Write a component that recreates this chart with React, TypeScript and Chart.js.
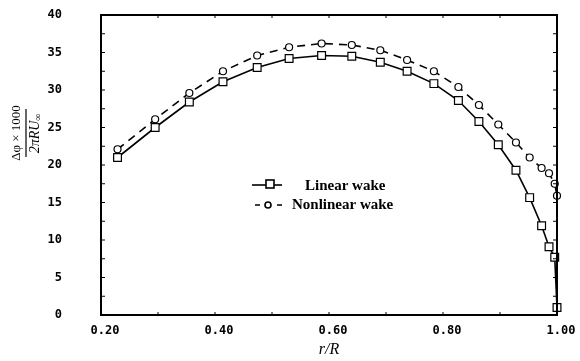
import { useEffect, useRef } from 'react';
import { Chart, registerables } from 'chart.js';

Chart.register(...registerables);

// Radial stations r/R
const radius = [0.229, 0.295, 0.355, 0.414, 0.474, 0.530, 0.587, 0.640, 0.690, 0.737,
  0.784, 0.827, 0.863, 0.897, 0.928, 0.952, 0.973, 0.986, 0.996, 1.0];

// Circulation  Δφ×1000 / (2πRU∞)
const linearWake = [21.0, 25.0, 28.4, 31.1, 33.0, 34.2, 34.6, 34.5, 33.7, 32.5,
  30.85, 28.6, 25.8, 22.7, 19.3, 15.65, 11.9, 9.1, 7.7, 1.0];
const nonlinearWake = [22.1, 26.1, 29.6, 32.5, 34.6, 35.7, 36.2, 36.0, 35.3, 34.0,
  32.5, 30.4, 28.0, 25.4, 23.0, 21.0, 19.6, 18.9, 17.5, 15.9];

const seriesNames = ['Linear wake', 'Nonlinear wake'];
const xTitle = 'r/R';
const yTitleTop = 'Δφ × 1000';
const yTitleBottom = '2πRU';

const tickFont = { family: "'DejaVu Sans Mono', monospace", size: 12, weight: 'bold' as const };

const decorations = {
  id: 'decorations',
  afterDraw(chart: Chart) {
    const { ctx, chartArea: a } = chart;
    const xs = chart.scales.x;
    const ys = chart.scales.y;
    ctx.save();
    ctx.strokeStyle = '#000';
    ctx.fillStyle = '#000';

    // frame
    ctx.lineWidth = 2;
    ctx.strokeRect(a.left, a.top, a.right - a.left, a.bottom - a.top);

    // inward minor ticks
    ctx.lineWidth = 1;
    ctx.beginPath();
    for (let v = 2.5; v < 40; v += 2.5) {
      const y = ys.getPixelForValue(v);
      ctx.moveTo(a.left, y); ctx.lineTo(a.left + 4, y);
      ctx.moveTo(a.right, y); ctx.lineTo(a.right - 4, y);
    }
    for (let i = 3; i < 10; i++) {
      const x = xs.getPixelForValue(i / 10);
      ctx.moveTo(x, a.bottom); ctx.lineTo(x, a.bottom - 3);
      ctx.moveTo(x, a.top); ctx.lineTo(x, a.top + 3);
    }
    ctx.stroke();

    // x title
    ctx.font = "italic 16px 'Liberation Serif', serif";
    ctx.textAlign = 'center';
    ctx.textBaseline = 'middle';
    ctx.fillText(xTitle, (a.left + a.right) / 2, 350);

    // y title as a fraction, rotated
    ctx.save();
    ctx.translate(26, 133);
    ctx.rotate(-Math.PI / 2);
    ctx.font = "13px 'Liberation Serif', serif";
    ctx.textAlign = 'center';
    ctx.textBaseline = 'middle';
    ctx.fillText(yTitleTop, 0, -9);
    ctx.lineWidth = 1.2;
    ctx.beginPath();
    ctx.moveTo(-24, 0); ctx.lineTo(24, 0);
    ctx.stroke();
    ctx.font = "italic 14px 'Liberation Serif', serif";
    const w = ctx.measureText(yTitleBottom).width;
    ctx.textAlign = 'left';
    ctx.fillText(yTitleBottom, -w / 2 - 4, 9);
    ctx.font = "10px 'Liberation Serif', serif";
    ctx.fillText('∞', w / 2 - 4, 12);
    ctx.restore();

    // legend
    ctx.lineWidth = 1.6;
    ctx.setLineDash([]);
    ctx.beginPath();
    ctx.moveTo(252, 185); ctx.lineTo(282, 185);
    ctx.stroke();
    ctx.fillStyle = '#fff';
    ctx.fillRect(266, 180, 8, 8);
    ctx.strokeRect(266, 180, 8, 8);
    ctx.beginPath();
    ctx.moveTo(255, 205); ctx.lineTo(260, 205);
    ctx.moveTo(277, 205); ctx.lineTo(282, 205);
    ctx.stroke();
    ctx.beginPath();
    ctx.arc(268, 205, 3, 0, Math.PI * 2);
    ctx.fill();
    ctx.stroke();
    ctx.fillStyle = '#000';
    ctx.font = "bold 15px 'Liberation Serif', serif";
    ctx.textAlign = 'left';
    ctx.textBaseline = 'middle';
    ctx.fillText(seriesNames[0], 305, 186);
    ctx.fillText(seriesNames[1], 292, 205);
    ctx.restore();
  },
};

export default function App() {
  const ref = useRef<HTMLCanvasElement>(null);
  useEffect(() => {
    if (!ref.current) return;
    const chart = new Chart(ref.current, {
      type: 'line',
      data: {
        datasets: [
          {
            label: seriesNames[0],
            data: radius.map((r, i) => ({ x: r, y: linearWake[i] })),
            borderColor: '#000',
            borderWidth: 1.6,
            pointStyle: 'rect',
            pointRadius: 5.5,
            pointBorderWidth: 1.2,
            pointBackgroundColor: '#fff',
            pointBorderColor: '#000',
            tension: 0,
            clip: 10,
          },
          {
            label: seriesNames[1],
            data: radius.map((r, i) => ({ x: r, y: nonlinearWake[i] })),
            borderColor: '#000',
            borderWidth: 1.6,
            borderDash: [8, 6],
            pointStyle: 'circle',
            pointRadius: 3.5,
            pointBorderWidth: 1.2,
            pointBackgroundColor: '#fff',
            pointBorderColor: '#000',
            tension: 0,
            clip: 10,
          },
        ],
      },
      options: {
        responsive: false,
        animation: false,
        devicePixelRatio: 1,
        layout: { autoPadding: false, padding: { top: 15, right: 23, left: 0, bottom: 0 } },
        plugins: { legend: { display: false }, tooltip: { enabled: false } },
        scales: {
          x: {
            type: 'linear',
            min: 0.2,
            max: 1.0,
            grid: { display: false },
            border: { display: false },
            ticks: {
              stepSize: 0.2,
              color: '#000',
              font: tickFont,
              padding: 1,
              labelOffset: 4,
              maxRotation: 0,
              callback: (v) => Number(v).toFixed(2),
            },
            afterFit: (s: any) => {
              s.height = 46;
              s.paddingLeft = 0;
              s.paddingRight = 0;
            },
          },
          y: {
            type: 'linear',
            min: 0,
            max: 40,
            grid: { display: false },
            border: { display: false },
            ticks: { stepSize: 5, color: '#000', font: tickFont, padding: 31 },
            afterFit: (s: any) => {
              s.width = 101;
              s.paddingTop = 0;
              s.paddingBottom = 0;
            },
          },
        },
      },
      plugins: [decorations],
    });
    return () => chart.destroy();
  }, []);
  return (
    <div style={{ position: 'absolute', left: 0, top: 0, width: 580, height: 361, background: '#fff' }}>
      <canvas ref={ref} width={580} height={361} />
    </div>
  );
}
